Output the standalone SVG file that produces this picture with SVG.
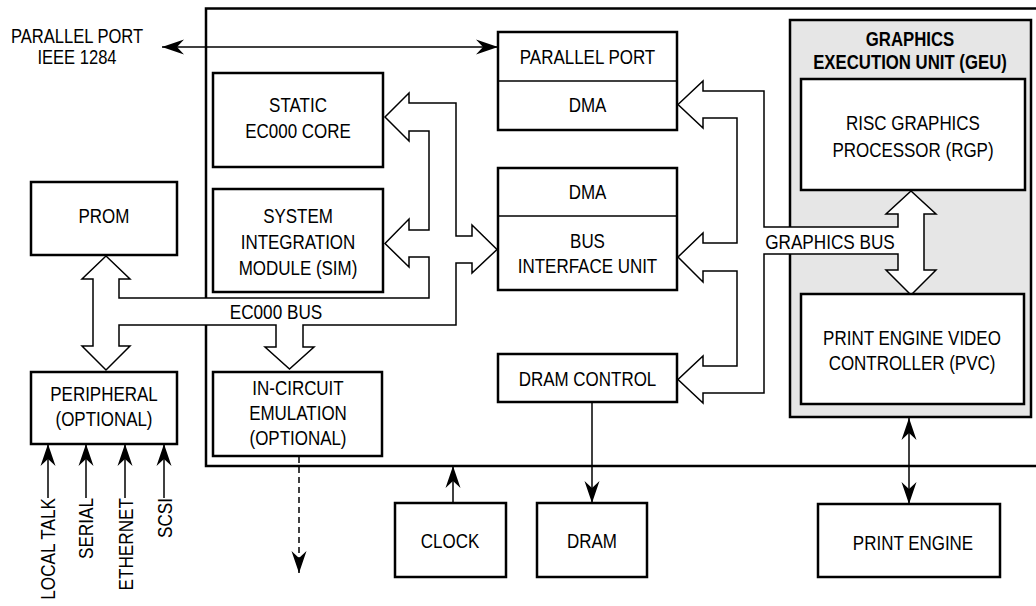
<svg xmlns="http://www.w3.org/2000/svg" width="1036" height="606" viewBox="0 0 1036 606">
<style>
text{font-family:"Liberation Sans",Arial,sans-serif;font-size:19.5px;fill:#000;text-anchor:middle}
.b{font-weight:bold}
.box{fill:#fff;stroke:#000;stroke-width:2.5}
.bus{fill:#fff;stroke:#000;stroke-width:1.5;stroke-linejoin:miter}
.ln{fill:none;stroke:#000;stroke-width:1.5}
.rot{text-anchor:end}
</style>
<defs>
<marker id="ah" viewBox="-23 -8 24 16" refX="0" refY="0" markerWidth="24" markerHeight="16" markerUnits="userSpaceOnUse" orient="auto-start-reverse">
<path d="M0,0 L-22,-7.5 L-15,0 L-22,7.5 Z" fill="#000"/>
</marker>
</defs>
<rect width="1036" height="606" fill="#fff"/>
<g id="chip"><rect x="206" y="8.5" width="840" height="457.5" fill="none" stroke="#000" stroke-width="2.5"/></g>
<g id="geu"><rect x="790" y="20" width="241" height="397" fill="#e6e6e6" stroke="#000" stroke-width="2.5"/>
<text class="b" transform="translate(910,46) scale(.86,1)">GRAPHICS</text>
<text class="b" transform="translate(910,69) scale(.86,1)">EXECUTION UNIT (GEU)</text></g>
<g id="connectors">
<path class="bus" d="M106,256 L130,279 L119,279 L119,298 L429,298 L429,257 L409,257 L409,267 L385,243.5 L409,219 L409,230 L429,230 L429,131 L409,131 L409,141 L385,117 L409,93 L409,103 L456,103 L456,236 L472,236 L472,225 L497,249.5 L472,273 L472,263 L456,263 L456,325 L303,325 L303,347 L314,347 L289.5,369 L265,347 L276,347 L276,325 L119,325 L119,346 L130,346 L106,370 L82,346 L93,346 L93,279 L82,279 Z"/>
<text transform="translate(276,319) scale(.88,1)">EC000 BUS</text>
<path class="bus" d="M678,104.5 L703,81 L703,91 L764,91 L764,227 L898,227 L898,214 L886,214 L911,191 L936,214 L924,214 L924,270 L936,270 L911,295 L886,270 L898,270 L898,254 L764,254 L764,393 L703,393 L703,403 L678,379.5 L703,356 L703,366 L737,366 L737,271 L703,271 L703,282 L678,257 L703,233 L703,243 L737,243 L737,118 L703,118 L703,128 Z"/>
<text transform="translate(830,249) scale(.88,1)">GRAPHICS BUS</text>
<line class="ln" x1="162" y1="47" x2="498" y2="47" marker-start="url(#ah)" marker-end="url(#ah)"/>
<line class="ln" x1="48" y1="498" x2="48" y2="444" marker-end="url(#ah)"/>
<line class="ln" x1="86" y1="498" x2="86" y2="444" marker-end="url(#ah)"/>
<line class="ln" x1="125" y1="498" x2="125" y2="444" marker-end="url(#ah)"/>
<line class="ln" x1="164" y1="498" x2="164" y2="444" marker-end="url(#ah)"/>
<line class="ln" x1="299" y1="457" x2="299" y2="573" stroke-dasharray="6,4" marker-end="url(#ah)"/>
<line class="ln" x1="453" y1="503" x2="453" y2="466" marker-end="url(#ah)"/>
<line class="ln" x1="592" y1="402" x2="592" y2="503" marker-end="url(#ah)"/>
<line class="ln" x1="909" y1="418" x2="909" y2="504" marker-start="url(#ah)" marker-end="url(#ah)"/>
</g>
<g id="pp-ext"><text transform="translate(77,43) scale(.85,1)">PARALLEL PORT</text><text transform="translate(77,64) scale(.85,1)">IEEE 1284</text></g>
<g id="io-labels">
<text class="rot" transform="translate(55,498) rotate(-90) scale(.88,1)">LOCAL TALK</text>
<text class="rot" transform="translate(93,498) rotate(-90) scale(.88,1)">SERIAL</text>
<text class="rot" transform="translate(133,498) rotate(-90) scale(.88,1)">ETHERNET</text>
<text class="rot" transform="translate(172,498) rotate(-90) scale(.88,1)">SCSI</text>
</g>
<g id="parallel-port"><rect class="box" x="498" y="32" width="179" height="98"/><line class="ln" x1="498" y1="81" x2="677" y2="81" stroke-width="2.5"/>
<text transform="translate(587.5,63.5) scale(.87,1)">PARALLEL PORT</text><text transform="translate(587.5,112) scale(.87,1)">DMA</text></g>
<g id="biu"><rect class="box" x="498" y="168" width="179" height="122"/><line class="ln" x1="498" y1="216" x2="677" y2="216" stroke-width="2.5"/>
<text transform="translate(587.5,199) scale(.87,1)">DMA</text><text transform="translate(587.5,248) scale(.87,1)">BUS</text><text transform="translate(587.5,273) scale(.87,1)">INTERFACE UNIT</text></g>
<g id="dram-control"><rect class="box" x="498" y="354" width="179" height="48"/><text transform="translate(587.5,386) scale(.87,1)">DRAM CONTROL</text></g>
<g id="core"><rect class="box" x="213" y="73" width="170" height="94"/><text transform="translate(298,112) scale(.87,1)">STATIC</text><text transform="translate(298,138) scale(.87,1)">EC000 CORE</text></g>
<g id="sim"><rect class="box" x="213" y="189" width="170" height="103"/><text transform="translate(298,223) scale(.87,1)">SYSTEM</text><text transform="translate(298,249) scale(.87,1)">INTEGRATION</text><text transform="translate(298,275) scale(.87,1)">MODULE (SIM)</text></g>
<g id="ice"><rect class="box" x="213" y="372" width="169" height="84"/><text transform="translate(298,395) scale(.87,1)">IN-CIRCUIT</text><text transform="translate(298,420) scale(.87,1)">EMULATION</text><text transform="translate(298,445) scale(.87,1)">(OPTIONAL)</text></g>
<g id="prom"><rect class="box" x="31" y="182" width="146" height="73"/><text transform="translate(104,223) scale(.87,1)">PROM</text></g>
<g id="peripheral"><rect class="box" x="31" y="372" width="146" height="72"/><text transform="translate(104,401) scale(.87,1)">PERIPHERAL</text><text transform="translate(104,426) scale(.87,1)">(OPTIONAL)</text></g>
<g id="rgp"><rect class="box" x="801" y="79" width="224" height="111"/><text transform="translate(913,130) scale(.87,1)">RISC GRAPHICS</text><text transform="translate(913,157) scale(.87,1)">PROCESSOR (RGP)</text></g>
<g id="pvc"><rect class="box" x="801" y="294" width="223" height="110"/><text transform="translate(912,345) scale(.87,1)">PRINT ENGINE VIDEO</text><text transform="translate(912,370) scale(.87,1)">CONTROLLER (PVC)</text></g>
<g id="clock"><rect class="box" x="395" y="503" width="111" height="74"/><text transform="translate(450,548) scale(.87,1)">CLOCK</text></g>
<g id="dram"><rect class="box" x="537" y="503" width="110" height="74"/><text transform="translate(592,548) scale(.87,1)">DRAM</text></g>
<g id="print-engine"><rect class="box" x="818" y="504" width="182" height="73"/><text transform="translate(913,550) scale(.87,1)">PRINT ENGINE</text></g>
</svg>
